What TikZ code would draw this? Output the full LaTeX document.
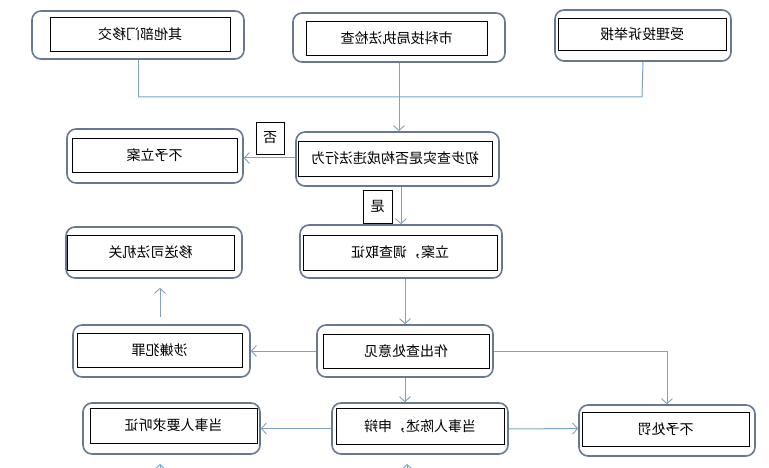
\documentclass[tikz,border=0pt]{standalone}
\usepackage{fontspec}
\usepackage{graphicx}
\newfontfamily\cjk{Noto Sans CJK SC}
\usetikzlibrary{arrows.meta}
\definecolor{conn}{RGB}{125,162,200}
\definecolor{frame}{RGB}{105,120,145}
\tikzset{
  outerbox/.style={draw=frame, line width=1.6pt, rounded corners=9pt, inner sep=0pt, fill=white},
  innerbox/.style={draw=black, line width=0.9pt, inner sep=0pt, font=\cjk\fontsize{14}{16}\selectfont, fill=white},
  labelbox/.style={draw=black, line width=0.9pt, inner sep=0pt, font=\cjk\fontsize{14}{16}\selectfont, fill=white},
  conline/.style={draw=conn, line width=1pt},
  arr/.style={conline, -{Straight Barb[length=5pt,width=11pt,line width=0.9pt]}}
}
\newcommand{\mir}[1]{\reflectbox{#1}}
\begin{document}
\begin{tikzpicture}[x=1pt,y=-1pt]
\useasboundingbox[fill=white] (0,0) rectangle (769,468);
\coordinate (j1) at (138,97);
\coordinate (j2) at (642,97);
\coordinate (b1s) at (160,470);
\coordinate (b1e) at (160,464);
\coordinate (b2s) at (407,470);
\coordinate (b2e) at (407,464);

% outer boxes
\node[outerbox, minimum width=212pt, minimum height=48pt] (n1) at (138,35) {};
\node[outerbox, minimum width=212pt, minimum height=49pt] (n2) at (399,37.5) {};
\node[outerbox, minimum width=176pt, minimum height=51pt] (n3) at (643,35.5) {};
\node[outerbox, minimum width=203pt, minimum height=54pt] (n4) at (397.5,159) {};
\node[outerbox, minimum width=176pt, minimum height=54pt] (n5) at (155,156) {};
\node[outerbox, minimum width=202pt, minimum height=53pt] (n6) at (401,251.5) {};
\node[outerbox, minimum width=176pt, minimum height=51pt] (n7) at (154,252.5) {};
\node[outerbox, minimum width=176pt, minimum height=52pt] (n8) at (405,351) {};
\node[outerbox, minimum width=177pt, minimum height=52pt] (n9) at (161.5,351) {};
\node[outerbox, minimum width=176pt, minimum height=51pt] (n10) at (667,430.5) {};
\node[outerbox, minimum width=176pt, minimum height=51pt] (n11) at (420,428.5) {};
\node[outerbox, minimum width=177pt, minimum height=51pt] (n12) at (171.5,428.5) {};

% inner boxes with text (mirrored as in the reference)
\node[innerbox, minimum width=180pt, minimum height=34pt] (t1) at (140,34) {\mir{其他部门移交}};
\node[innerbox, minimum width=181pt, minimum height=34pt] (t2) at (396.5,38) {\mir{市科技局执法检查}};
\node[innerbox, minimum width=168pt, minimum height=32pt] (t3) at (642,34) {\mir{受理投诉举报}};
\node[innerbox, minimum width=194pt, minimum height=35pt] (t4) at (395,158.5) {\mir{初步查实是否构成违法行为}};
\node[innerbox, minimum width=165pt, minimum height=34pt] (t5) at (154.5,155) {\mir{不予立案}};
\node[innerbox, minimum width=194pt, minimum height=35pt] (t6) at (400,252.5) {\mir{立案，调查取证}};
\node[innerbox, minimum width=167pt, minimum height=35pt] (t7) at (150.5,252.5) {\mir{移送司法机关}};
\node[innerbox, minimum width=166pt, minimum height=34pt] (t8) at (406,351) {\mir{作出查处意见}};
\node[innerbox, minimum width=165pt, minimum height=34pt] (t9) at (159.5,350) {\mir{涉嫌犯罪}};
\node[innerbox, minimum width=167pt, minimum height=34pt] (t10) at (665.5,429) {\mir{不予处罚}};
\node[innerbox, minimum width=168pt, minimum height=36pt] (t11) at (420,426) {\mir{当事人陈述，申辩}};
\node[innerbox, minimum width=167pt, minimum height=35pt] (t12) at (173.5,425.5) {\mir{当事人要求听证}};

% yes / no labels
\node[labelbox, minimum width=28pt, minimum height=32pt] (no) at (270,138) {\mir{否}};
\node[labelbox, minimum width=29pt, minimum height=33pt] (yes) at (377.5,206.5) {\mir{是}};

% connector anchor points
\coordinate (c4w) at ([yshift=1pt]n4.west);
\coordinate (c11e) at ([yshift=-0.5pt]n11.east);
\coordinate (c10w) at ([yshift=2pt]n10.west);

% connectors
\draw[conline] (n1.south) -- (j1);
\draw[conline] (j1) -- (j2) -- (n3.south);
\draw[arr] (n2.south) -- (n2.south |- n4.north);
\draw[arr] (c4w) -- (c4w -| n5.east);
\draw[arr] (n4.south -| n6.north) -- (n6.north);
\draw[arr] (n6.south -| n8.north) -- (n8.north);
\draw[arr] (n8.west) -- (n9.east |- n8.west);
\draw[arr, shorten <=7pt, shorten >=9pt] (n9.north -| b1e) -- (n7.south -| b1e);
\draw[arr] (n8.east) -| (n10.north);
\draw[arr] (n8.south) -- (n8.south |- n11.north);
\draw[arr] (n11.west) -- (n12.east |- n11.west);
\draw[arr] (c11e) -- (c10w);
\draw[arr] (b1s) -- (b1e);
\draw[arr] (b2s) -- (b2e);
\end{tikzpicture}
\end{document}
